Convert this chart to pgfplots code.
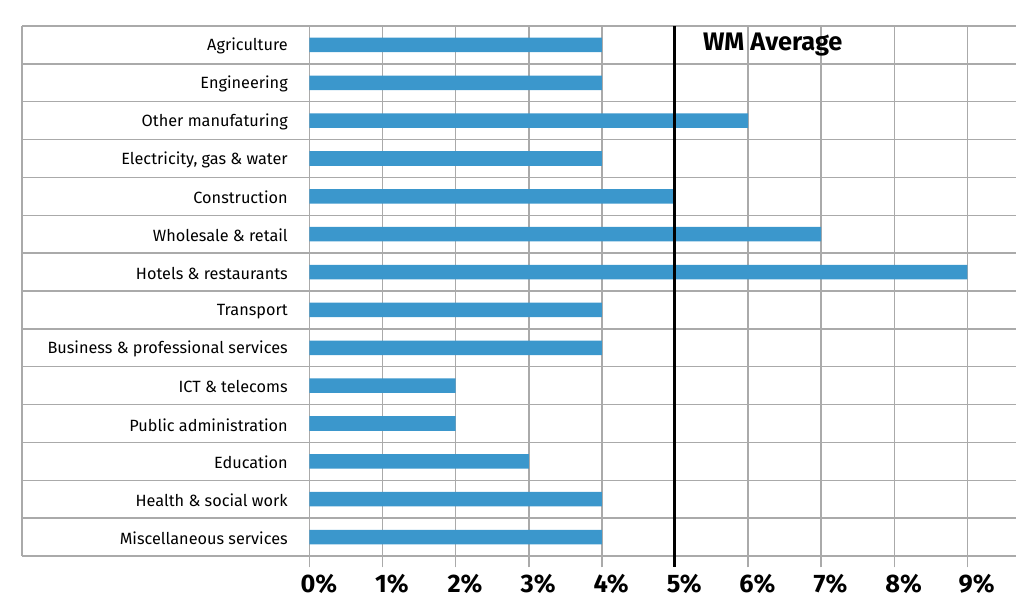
\documentclass[border=0pt]{standalone}
\usepackage{fontspec}
\setmainfont{Fira Sans}
\usepackage{pgfplots}
\pgfplotsset{compat=1.18}
\definecolor{barblue}{RGB}{59,151,204}
\definecolor{gridgray}{RGB}{170,170,170}
\begin{document}
\begin{tikzpicture}
\useasboundingbox (0,0) rectangle (762pt,-453pt);
\begin{axis}[
  at={(16.5pt,-19.5pt)}, anchor=north west,
  scale only axis, width=745.5pt, height=397.5pt,
  xmin=-3.933, xmax=9.665,
  ymin=-0.5, ymax=13.5, y dir=reverse,
  axis line style={draw=none},
  clip=false,
  xtick={0,...,9},
  xticklabels={0\%,1\%,2\%,3\%,4\%,5\%,6\%,7\%,8\%,9\%},
  xticklabel style={font=\bfseries\fontsize{19pt}{19pt}\selectfont, xshift=7pt, yshift=-2pt},
  xtick pos=left,
  tick align=outside,
  major tick length=8.5pt,
  tick style={gridgray, line width=1.1pt},
  xmajorgrids,
  major grid style={gridgray, line width=1.1pt},
  extra x ticks={-3.933},
  extra x tick labels={},
  extra x tick style={grid=major, major tick length=0pt},
  ytick={0,...,13},
  yticklabels={Agriculture,Engineering,Other manufaturing,{Electricity, gas \& water},Construction,Wholesale \& retail,Hotels \& restaurants,Transport,Business \& professional services,ICT \& telecoms,Public administration,Education,Health \& social work,Miscellaneous services},
  ytick pos=left,
  ytick style={draw=none},
  yticklabel style={font=\fontsize{12.2pt}{14pt}\selectfont, anchor=east, inner sep=0pt, xshift=208pt, yshift=-1pt},
  minor ytick={-0.5,0.5,...,13.5},
  yminorgrids,
  minor grid style={gridgray, line width=1.1pt},
  minor tick length=0pt,
]
\addplot[xbar, bar width=10.9pt, fill=barblue, draw=none] coordinates {
  (4,0) (4,1) (6,2) (4,3) (5,4) (7,5) (9,6) (4,7) (4,8) (2,9) (2,10) (3,11) (4,12) (4,13)
};
\addplot[black, line width=2.25pt] coordinates {(5,-0.5) (5,13.79)};
\node[anchor=west, inner sep=0pt, font=\bfseries\fontsize{19pt}{19pt}\selectfont] at (axis cs:5.38,-0.02) {WM Average};
\end{axis}
\end{tikzpicture}
\end{document}
